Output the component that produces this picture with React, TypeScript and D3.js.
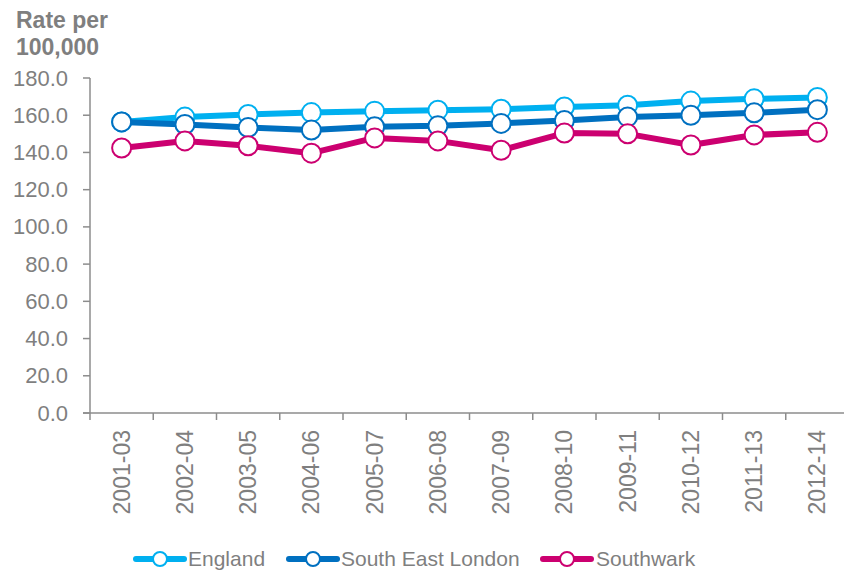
import * as d3 from 'd3';

const categories = [
  '2001-03', '2002-04', '2003-05', '2004-06', '2005-07', '2006-08',
  '2007-09', '2008-10', '2009-11', '2010-12', '2011-13', '2012-14',
];
const england = [156.4, 159.0, 160.4, 161.4, 162.2, 162.7, 163.2, 164.4, 165.4, 167.6, 168.8, 169.5];
const southEastLondon = [156.4, 155.0, 153.4, 152.0, 153.8, 154.3, 155.6, 157.2, 159.1, 160.0, 161.3, 163.0];
const southwark = [142.4, 146.2, 143.6, 139.6, 147.8, 146.2, 141.2, 150.4, 150.0, 144.0, 149.4, 150.8];
const yTicks = [0, 20, 40, 60, 80, 100, 120, 140, 160, 180];

const seriesList = [
  { name: 'England', values: england, color: '#00B0F0' },
  { name: 'South East London', values: southEastLondon, color: '#0070C0' },
  { name: 'Southwark', values: southwark, color: '#CC0070' },
];

const FONT = '"Liberation Sans", Arial, sans-serif';
const GREY = '#7f7f7f';
const AXIS = '#8c8c8c';

export default function App() {
  const width = 844;
  const height = 570;
  const left = 90;
  const right = 849;
  const top = 78;
  const bottom = 413;

  const x = d3.scaleBand<string>().domain(categories).range([left, right]);
  const y = d3.scaleLinear().domain([0, 180]).range([bottom, top]);
  const cx = (c: string) => x(c)! + x.bandwidth() / 2;

  const line = d3.line<number>()
    .x((_, i) => cx(categories[i]))
    .y(d => y(d));

  const legendItems = [
    { lx: 136, tx: 188 },
    { lx: 289, tx: 341 },
    { lx: 543, tx: 596 },
  ];

  return (
    <svg width={width} height={height} style={{ position: 'absolute', left: 0, top: 0 }}>
      {/* Axis title */}
      <text x={16} y={28} fontFamily={FONT} fontSize={23} fontWeight="bold" fill={GREY}>Rate per</text>
      <text x={16} y={55} fontFamily={FONT} fontSize={23} fontWeight="bold" fill={GREY}>100,000</text>

      {/* Y-axis */}
      <line x1={left} x2={left} y1={top} y2={bottom} stroke={AXIS} strokeWidth={1.5} />
      {yTicks.map(t => (
        <g key={t}>
          <line x1={left - 7} x2={left} y1={y(t)} y2={y(t)} stroke={AXIS} strokeWidth={1.5} />
          <text x={68} y={y(t)} textAnchor="end" dominantBaseline="central"
            fontFamily={FONT} fontSize={22} fill={GREY}>{t.toFixed(1)}</text>
        </g>
      ))}

      {/* X-axis */}
      <line x1={left - 7} x2={right} y1={bottom} y2={bottom} stroke={AXIS} strokeWidth={1.5} />
      {categories.map(c => (
        <g key={c}>
          <line x1={x(c)!} x2={x(c)!} y1={bottom} y2={bottom + 7} stroke={AXIS} strokeWidth={1.5} />
          <text transform={`translate(${cx(c) + 8},430) rotate(-90)`} textAnchor="end"
            fontFamily={FONT} fontSize={23} fill={GREY}>{c}</text>
        </g>
      ))}

      {/* Series */}
      {seriesList.map(s => (
        <g key={s.name}>
          <path d={line(s.values)!} fill="none" stroke={s.color} strokeWidth={6} strokeLinejoin="round" />
          {s.values.map((v, i) => (
            <circle key={i} cx={cx(categories[i])} cy={y(v)} r={9.5}
              fill="#fff" stroke={s.color} strokeWidth={2} />
          ))}
        </g>
      ))}

      {/* Legend */}
      {seriesList.map((s, i) => (
        <g key={s.name}>
          <line x1={legendItems[i].lx} x2={legendItems[i].lx + 48} y1={559} y2={559}
            stroke={s.color} strokeWidth={6} strokeLinecap="round" />
          <circle cx={legendItems[i].lx + 24} cy={559} r={7} fill="#fff" stroke={s.color} strokeWidth={2} />
          <text x={legendItems[i].tx} y={566} fontFamily={FONT} fontSize={21} fill={GREY}>{s.name}</text>
        </g>
      ))}
    </svg>
  );
}
